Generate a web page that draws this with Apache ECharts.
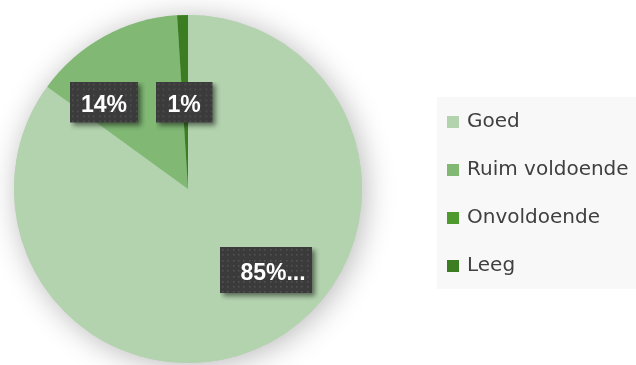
<!DOCTYPE html>
<html>
<head>
<meta charset="utf-8">
<script src="https://cdn.jsdelivr.net/npm/echarts@6/dist/echarts.min.js"></script>
<style>
  html, body { margin: 0; padding: 0; background: #ffffff; }
  #chart { width: 636px; height: 365px; }
</style>
</head>
<body>
<div id="chart"></div>
<script>
// Beoordeling: aandeel per categorie (%)
const categories = ['Goed', 'Ruim voldoende', 'Onvoldoende', 'Leeg'];
const percentages = [85, 14, 0, 1];
const colors = ['#b3d3ae', '#80b874', '#4e9a2c', '#3c7d22'];
// the first category's label is cut short in the chart
const truncated = [true, false, false, false];

// label box sizes, text inset and offsets from the pie centre
const PIE_CENTER = [188, 189];
const PIE_RADIUS = 174;
const SHADOW_PAD = 8;
const labelBoxes = [
  { w: 92, h: 46, inset: 14, dx: 78, dy: 81 },
  { w: 68, h: 41, inset: 0, dx: -84, dy: -87 },
  { w: 0, h: 0, inset: 0, dx: 0, dy: 0 },
  { w: 57, h: 41, inset: 0, dx: -4, dy: -87 }
];

// dark, dotted label background with its drop shadow
function dottedBox(w, h) {
  const c = document.createElement('canvas');
  c.width = w + SHADOW_PAD; c.height = h + SHADOW_PAD;
  const g = c.getContext('2d');
  g.save();
  g.shadowColor = 'rgba(0,0,0,0.5)';
  g.shadowBlur = 5;
  g.shadowOffsetX = 3;
  g.shadowOffsetY = 3;
  g.fillStyle = '#3b3b3b';
  g.fillRect(0, 0, w, h);
  g.restore();
  g.fillStyle = '#525252';
  for (let y = 2; y < h - 1; y += 5.3) {
    for (let x = 2; x < w - 1; x += 5.3) {
      g.fillRect(Math.round(x), Math.round(y), 1.6, 1.6);
    }
  }
  return c;
}

const chart = echarts.init(document.getElementById('chart'), null, { renderer: 'canvas' });

const pieData = categories.map((name, i) => {
  const box = labelBoxes[i];
  const item = { name, value: percentages[i], itemStyle: { color: colors[i] } };
  if (percentages[i] === 0) {
    item.label = { show: false };
  } else {
    item.label = {
      width: box.w - box.inset,
      height: box.h,
      lineHeight: box.h,
      padding: [0, SHADOW_PAD, SHADOW_PAD, box.inset],
      backgroundColor: { image: dottedBox(box.w, box.h) }
    };
  }
  return item;
});

chart.setOption({
  animation: false,
  backgroundColor: '#ffffff',
  legend: {
    data: categories,
    orient: 'vertical',
    left: 437,
    top: 97,
    padding: [14, 12, 12, 10],
    itemGap: 26,
    itemWidth: 12,
    itemHeight: 12,
    icon: 'rect',
    backgroundColor: '#f8f8f8',
    selectedMode: false,
    textStyle: {
      fontFamily: 'DejaVu Sans',
      fontSize: 20,
      lineHeight: 22,
      color: '#404040',
      padding: [0, 0, 0, 3]
    }
  },
  series: [
    {
      // soft shadow beneath the pie
      type: 'pie',
      silent: true,
      center: PIE_CENTER,
      radius: PIE_RADIUS,
      z: 1,
      label: { show: false },
      labelLine: { show: false },
      data: [{ name: '', value: 1 }],
      itemStyle: {
        color: colors[0],
        shadowBlur: 30,
        shadowOffsetX: 3,
        shadowOffsetY: 3,
        shadowColor: 'rgba(0,0,0,0.28)'
      }
    },
    {
      type: 'pie',
      z: 2,
      center: PIE_CENTER,
      radius: PIE_RADIUS,
      startAngle: 90,
      clockwise: true,
      avoidLabelOverlap: false,
      itemStyle: { borderWidth: 0 },
      label: {
        show: true,
        position: 'inside',
        formatter: p => p.value + '%' + (truncated[p.dataIndex] ? '...' : ''),
        fontFamily: 'Liberation Sans',
        fontWeight: 'bold',
        fontSize: 23,
        color: '#ffffff',
        align: 'center',
        verticalAlign: 'middle'
      },
      labelLine: { show: false },
      labelLayout: params => {
        const box = labelBoxes[params.dataIndex];
        return {
          x: PIE_CENTER[0] + box.dx + SHADOW_PAD / 2,
          y: PIE_CENTER[1] + box.dy + SHADOW_PAD / 2
        };
      },
      data: pieData
    }
  ]
});
</script>
</body>
</html>
